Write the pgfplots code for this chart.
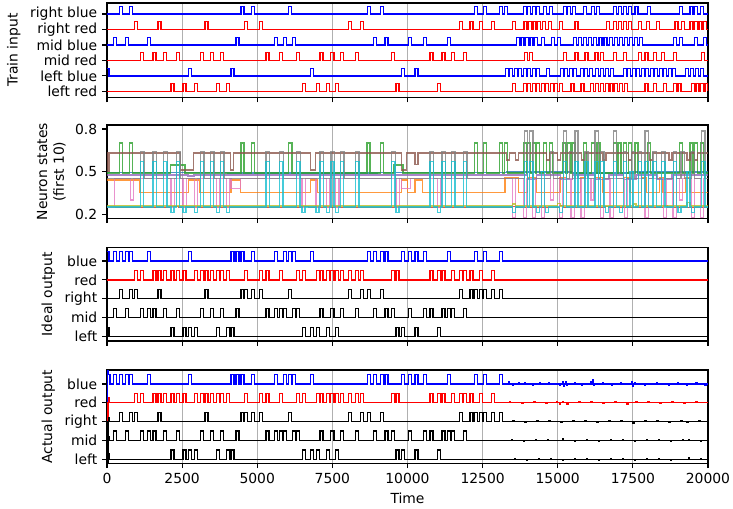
\documentclass[border=0pt]{standalone}
\usepackage{fontspec}
\setmainfont{DejaVu Sans}
\usepackage{pgfplots}
\pgfplotsset{compat=1.18}
\definecolor{tabC0}{HTML}{1F77B4}
\definecolor{tabC1}{HTML}{FF7F0E}
\definecolor{tabC2}{HTML}{2CA02C}
\definecolor{tabC3}{HTML}{D62728}
\definecolor{tabC4}{HTML}{9467BD}
\definecolor{tabC5}{HTML}{8C564B}
\definecolor{tabC6}{HTML}{E377C2}
\definecolor{tabC7}{HTML}{7F7F7F}
\definecolor{tabC8}{HTML}{BCBD22}
\definecolor{tabC9}{HTML}{17BECF}
\definecolor{gridgray}{HTML}{B0B0B0}
\pgfplotsset{
  panel/.style={
    width=432.72pt, scale only axis,
    xmin=0, xmax=20000,
    scaled x ticks=false, scaled y ticks=false,
    xtick={0,2500,5000,7500,10000,12500,15000,17500,20000},
    xticklabels={},
    xmajorgrids,
    major grid style={color=gridgray, line width=0.8pt},
    tick align=outside, tick pos=left,
    major tick length=3.5pt,
    tick style={black, line width=0.8pt},
    axis line style={line width=0.8pt},
    every axis plot/.append style={const plot, line width=0.9pt, mark=none},
    ylabel style={font=\normalsize},
    ticklabel style={font=\normalsize},
  },
  ns/.style={draw opacity=0.8, line width=1pt},
}
\begin{document}
\begin{tikzpicture}
\useasboundingbox (0,0) rectangle (527.76pt,-366.48pt);
% ---------------- Panel 1: Train input
\begin{axis}[panel, at={(77.04pt,-2.16pt)}, anchor=north west, height=68pt,
  ymin=-0.39, ymax=5.71,
  ytick={0,1,2,3,4,5},
  yticklabels={left red,left blue,mid red,mid blue,right red,right blue},
  ylabel={Train input}]
\addplot[blue] coordinates {(0,5) (422,5.5) (522,5) (755,5.5) (855,5) (4462,5.5) (4562,5) (4817,5.5) (4917,5) (6050,5.5) (6150,5) (8658,5.5) (8758,5) (9105,5.5) (9205,5) (12221,5.5) (12321,5) (12520,5.5) (12620,5) (13052,5.5) (13152,5) (13218,5.5) (13318,5) (13850,5.5) (13950,5) (14000,5.5) (14100,5) (14150,5.5) (14250,5) (14300,5.5) (14400,5) (14520,5.5) (14620,5) (14720,5.5) (14820,5) (15180,5.5) (15280,5) (15330,5.5) (15430,5) (15480,5.5) (15580,5) (15850,5.5) (15950,5) (16130,5.5) (16230,5) (16300,5.5) (16400,5) (16850,5.5) (16950,5) (17010,5.5) (17110,5) (17180,5.5) (17280,5) (17350,5.5) (17450,5) (17570,5.5) (17670,5) (17990,5.5) (18090,5) (19060,5.5) (19160,5) (19400,5.5) (19500,5) (19560,5.5) (19660,5) (19760,5.5) (19860,5) (20000,5)};
\addplot[red] coordinates {(0,4) (910,4.5) (1010,4) (1698,4.5) (1798,4) (3263,4.5) (3363,4) (4584,4.5) (4684,4) (5084,4.5) (5184,4) (8036,4.5) (8136,4) (8436,4.5) (8536,4) (11722,4.5) (11822,4) (12077,4.5) (12177,4) (12387,4.5) (12487,4) (12798,4.5) (12898,4) (13485,4.5) (13585,4) (13880,4.5) (13980,4) (14030,4.5) (14130,4) (14180,4.5) (14280,4) (14330,4.5) (14430,4) (14480,4.5) (14580,4) (14690,4.5) (14790,4) (15070,4.5) (15170,4) (15570,4.5) (15670,4) (16620,4.5) (16720,4) (16850,4.5) (16950,4) (17010,4.5) (17110,4) (17180,4.5) (17280,4) (17350,4.5) (17450,4) (17680,4.5) (17780,4) (17955,4.5) (18055,4) (18290,4.5) (18390,4) (18900,4.5) (19000,4) (19120,4.5) (19220,4) (19400,4.5) (19500,4) (19550,4.5) (19650,4) (19700,4.5) (19800,4) (19850,4.5) (19950,4) (20000,4)};
\addplot[blue] coordinates {(0,3) (222,3.5) (322,3) (611,3.5) (711,3) (1354,3.5) (1454,3) (4296,3.5) (4396,3) (5572,3.5) (5672,3) (5883,3.5) (5983,3) (6183,3.5) (6283,3) (8858,3.5) (8958,3) (9249,3.5) (9349,3) (10025,3.5) (10125,3) (10524,3.5) (10624,3) (11323,3.5) (11423,3) (13630,3.5) (13730,3) (13780,3.5) (13880,3) (13930,3.5) (14030,3) (14080,3.5) (14180,3) (14230,3.5) (14330,3) (14460,3.5) (14560,3) (14800,3.5) (14900,3) (14980,3.5) (15080,3) (15520,3.5) (15620,3) (15690,3.5) (15790,3) (15860,3.5) (15960,3) (16030,3.5) (16130,3) (16200,3.5) (16300,3) (16370,3.5) (16470,3) (16540,3.5) (16640,3) (16710,3.5) (16810,3) (16880,3.5) (16980,3) (17050,3.5) (17150,3) (17220,3.5) (17320,3) (17390,3.5) (17490,3) (17560,3.5) (17660,3) (17730,3.5) (17830,3) (18850,3.5) (18950,3) (19060,3.5) (19160,3) (19560,3.5) (19660,3) (19850,3.5) (19950,3) (20000,3)};
\addplot[red] coordinates {(0,2) (1110,2.5) (1210,2) (1532,2.5) (1632,2) (1887,2.5) (1987,2) (2309,2.5) (2409,2) (3108,2.5) (3208,2) (3441,2.5) (3541,2) (3774,2.5) (3874,2) (5295,2.5) (5395,2) (5750,2.5) (5850,2) (6310,2.5) (6410,2) (7090,2.5) (7190,2) (7450,2.5) (7550,2) (7770,2.5) (7870,2) (8270,2.5) (8370,2) (9471,2.5) (9571,2) (10746,2.5) (10846,2) (11150,2.5) (11250,2) (11467,2.5) (11567,2) (11855,2.5) (11955,2) (13885,2.5) (13985,2) (14062,2.5) (14162,2) (15182,2.5) (15282,2) (15570,2.5) (15670,2) (15903,2.5) (16003,2) (16236,2.5) (16336,2) (16430,2.5) (16530,2) (16846,2.5) (16946,2) (17178,2.5) (17278,2) (17678,2.5) (17778,2) (17900,2.5) (18000,2) (18176,2.5) (18276,2) (18454,2.5) (18554,2) (18850,2.5) (18950,2) (19784,2.5) (19884,2) (20000,2)};
\addplot[blue] coordinates {(0,1.5) (70,1) (2720,1.5) (2820,1) (4129,1.5) (4229,1) (6771,1.5) (6871,1) (9803,1.5) (9903,1) (10247,1.5) (10347,1) (13250,1.5) (13350,1) (13400,1.5) (13500,1) (13550,1.5) (13650,1) (13700,1.5) (13800,1) (13850,1.5) (13950,1) (14000,1.5) (14100,1) (14150,1.5) (14250,1) (14300,1.5) (14400,1) (14630,1.5) (14730,1) (15080,1.5) (15180,1) (15230,1.5) (15330,1) (15380,1.5) (15480,1) (15530,1.5) (15630,1) (15750,1.5) (15850,1) (15900,1.5) (16000,1) (16050,1.5) (16150,1) (16250,1.5) (16350,1) (16420,1.5) (16520,1) (16590,1.5) (16690,1) (16760,1.5) (16860,1) (17180,1.5) (17280,1) (17330,1.5) (17430,1) (17480,1.5) (17580,1) (17630,1.5) (17730,1) (17780,1.5) (17880,1) (17930,1.5) (18030,1) (18080,1.5) (18180,1) (18230,1.5) (18330,1) (18380,1.5) (18480,1) (18530,1.5) (18630,1) (18680,1.5) (18780,1) (18830,1.5) (18930,1) (19250,1.5) (19350,1) (19420,1.5) (19520,1) (19590,1.5) (19690,1) (19760,1.5) (19860,1) (20000,1)};
\addplot[red] coordinates {(0,0) (2131,0.5) (2231,0) (2531,0.5) (2631,0) (2908,0.5) (3008,0) (3641,0.5) (3741,0) (3974,0.5) (4074,0) (6494,0.5) (6594,0) (6960,0.5) (7060,0) (7310,0.5) (7410,0) (7604,0.5) (7704,0) (9615,0.5) (9715,0) (11000,0.5) (11100,0) (13485,0.5) (13585,0) (13850,0.5) (13950,0) (14000,0.5) (14100,0) (14150,0.5) (14250,0) (14300,0.5) (14400,0) (14450,0.5) (14550,0) (14600,0.5) (14700,0) (14750,0.5) (14850,0) (14900,0.5) (15000,0) (15050,0.5) (15150,0) (15440,0.5) (15540,0) (15770,0.5) (15870,0) (16100,0.5) (16200,0) (16260,0.5) (16360,0) (16420,0.5) (16520,0) (16580,0.5) (16680,0) (16740,0.5) (16840,0) (16900,0.5) (17000,0) (17060,0.5) (17160,0) (17220,0.5) (17320,0) (17900,0.5) (18000,0) (18180,0.5) (18280,0) (18510,0.5) (18610,0) (18840,0.5) (18940,0) (19000,0.5) (19100,0) (19450,0.5) (19550,0) (19600,0.5) (19700,0) (19750,0.5) (19850,0) (19900,0.5) (20000,0)};
\end{axis}
% ---------------- Panel 2: Neuron states
\begin{axis}[panel, at={(77.04pt,-90pt)}, anchor=north west, height=67.2pt,
  ymin=0.17, ymax=0.828,
  ytick={0.2,0.5,0.8}, yticklabels={0.2,0.5,0.8},
  ylabel={Neuron states\\(first 10)}, ylabel style={align=center}]
\addplot[tabC0, ns] coordinates {(0,0.493) (4000,0.49) (9000,0.493) (13300,0.497) (15500,0.49) (17500,0.497) (20000,0.497)};
\addplot[tabC1, ns] coordinates {(0,0.44) (1100,0.35) (2720,0.44) (3100,0.35) (4129,0.44) (4450,0.35) (6771,0.44) (7000,0.35) (9803,0.44) (10000,0.35) (10247,0.44) (10500,0.35) (13250,0.46) (13700,0.35) (14000,0.46) (14300,0.35) (15080,0.46) (15300,0.35) (15750,0.46) (15900,0.35) (16250,0.46) (16500,0.35) (17180,0.46) (17400,0.35) (17780,0.46) (17950,0.35) (18380,0.46) (18500,0.35) (19250,0.46) (19400,0.35) (20000,0.35)};
\addplot[tabC2, ns] coordinates {(0,0.49) (422,0.70) (522,0.49) (755,0.70) (855,0.49) (2110,0.545) (2600,0.49) (4462,0.70) (4562,0.49) (4817,0.70) (4917,0.49) (6050,0.70) (6150,0.49) (8658,0.70) (8758,0.49) (9105,0.70) (9205,0.49) (9550,0.545) (9850,0.49) (12221,0.70) (12321,0.49) (12520,0.70) (12620,0.49) (13052,0.70) (13152,0.49) (13218,0.70) (13318,0.49) (13850,0.70) (13950,0.49) (14000,0.70) (14100,0.49) (14150,0.70) (14250,0.49) (14300,0.70) (14400,0.49) (14520,0.70) (14620,0.49) (14720,0.70) (14820,0.49) (15180,0.70) (15280,0.49) (15330,0.70) (15430,0.49) (15480,0.70) (15580,0.49) (15850,0.70) (15950,0.49) (16130,0.70) (16230,0.49) (16300,0.70) (16400,0.49) (16850,0.70) (16950,0.49) (17010,0.70) (17110,0.49) (17180,0.70) (17280,0.49) (17350,0.70) (17450,0.49) (17570,0.70) (17670,0.49) (17990,0.70) (18090,0.49) (19060,0.70) (19160,0.49) (19400,0.70) (19500,0.49) (19560,0.70) (19660,0.49) (19760,0.70) (19860,0.49) (20000,0.49)};
\addplot[tabC3, ns] coordinates {(0,0.245) (2131,0.255) (2400,0.245) (6494,0.255) (6700,0.245) (13485,0.255) (13600,0.245) (15050,0.26) (15200,0.245) (16580,0.255) (16700,0.245) (18510,0.26) (18650,0.245) (20000,0.245)};
\addplot[tabC4, ns] coordinates {(0,0.476) (2700,0.468) (2900,0.476) (13300,0.476) (14000,0.445) (14300,0.476) (15100,0.445) (15500,0.476) (16250,0.445) (16700,0.476) (17180,0.445) (17600,0.476) (18300,0.445) (18800,0.476) (20000,0.476)};
\addplot[tabC5, ns] coordinates {(0,0.63) (30,0.5) (90,0.63) (2440,0.51) (2886,0.63) (4107,0.51) (4218,0.63) (6771,0.51) (6937,0.63) (9803,0.51) (9970,0.63) (10247,0.55) (10350,0.63) (13300,0.58) (13400,0.63) (13600,0.58) (13700,0.63) (14630,0.58) (14730,0.63) (15000,0.58) (15100,0.63) (15800,0.58) (15900,0.63) (16500,0.58) (16600,0.63) (17350,0.58) (17450,0.63) (18050,0.58) (18150,0.63) (18700,0.58) (18800,0.63) (19300,0.58) (19400,0.63) (19550,0.58) (19650,0.63) (20000,0.63)};
\addplot[tabC6, ns] coordinates {(0,0.25) (250,0.45) (780,0.30) (880,0.45) (2131,0.25) (2241,0.45) (2531,0.25) (2641,0.45) (2908,0.25) (3018,0.45) (3641,0.25) (3751,0.45) (3974,0.25) (4084,0.45) (4129,0.38) (4450,0.45) (6494,0.25) (6604,0.45) (6960,0.25) (7070,0.45) (7310,0.25) (7420,0.45) (7604,0.25) (7714,0.45) (9615,0.25) (9725,0.45) (9803,0.38) (10100,0.45) (11000,0.25) (11110,0.45) (13485,0.175) (13595,0.45) (13850,0.175) (13960,0.45) (14150,0.175) (14260,0.45) (14450,0.175) (14560,0.45) (14750,0.30) (14850,0.45) (15050,0.175) (15160,0.45) (15440,0.175) (15550,0.45) (15770,0.175) (15880,0.45) (16100,0.30) (16200,0.45) (16420,0.175) (16530,0.45) (16740,0.175) (16850,0.45) (17220,0.175) (17330,0.45) (17900,0.175) (18010,0.45) (18510,0.175) (18620,0.45) (18840,0.175) (18950,0.45) (19050,0.30) (19150,0.45) (19450,0.175) (19560,0.45) (19750,0.175) (19860,0.45) (20000,0.45)};
\addplot[tabC7, ns] coordinates {(0,0.45) (1110,0.64) (1230,0.45) (1532,0.64) (1652,0.45) (1887,0.64) (2007,0.45) (2309,0.64) (2429,0.45) (3108,0.64) (3228,0.45) (3441,0.64) (3561,0.45) (3774,0.64) (3894,0.45) (5295,0.64) (5415,0.45) (5750,0.64) (5870,0.45) (6310,0.64) (6430,0.45) (7090,0.64) (7210,0.45) (7450,0.64) (7570,0.45) (7770,0.64) (7890,0.45) (8270,0.64) (8390,0.45) (9471,0.64) (9591,0.45) (10746,0.64) (10866,0.45) (11150,0.64) (11270,0.45) (11467,0.64) (11587,0.45) (11855,0.64) (11975,0.45) (13885,0.785) (13995,0.45) (14062,0.785) (14172,0.45) (14750,0.64) (14860,0.45) (15182,0.785) (15292,0.45) (15400,0.64) (15500,0.45) (15570,0.785) (15680,0.45) (15903,0.64) (16013,0.45) (16236,0.785) (16346,0.45) (16430,0.64) (16540,0.45) (16846,0.785) (16956,0.45) (17178,0.64) (17288,0.45) (17450,0.64) (17560,0.45) (17678,0.64) (17788,0.45) (17900,0.785) (18010,0.45) (18176,0.64) (18286,0.45) (18454,0.64) (18564,0.45) (18850,0.64) (18960,0.45) (19100,0.64) (19210,0.45) (19450,0.64) (19560,0.45) (19784,0.785) (19894,0.45) (20000,0.45)};
\addplot[tabC8, ns] coordinates {(0,0.258) (13500,0.27) (13600,0.258) (15000,0.275) (15100,0.258) (17500,0.27) (17600,0.258) (19300,0.28) (19400,0.258) (20000,0.258)};
\addplot[tabC9, ns] coordinates {(0,0.25) (1110,0.57) (1220,0.25) (1532,0.57) (1642,0.25) (1887,0.57) (1997,0.25) (2131,0.21) (2231,0.25) (2309,0.57) (2419,0.25) (2531,0.21) (2631,0.25) (2908,0.21) (3008,0.25) (3108,0.57) (3218,0.25) (3441,0.57) (3551,0.25) (3641,0.21) (3741,0.25) (3774,0.57) (3884,0.25) (3974,0.21) (4074,0.25) (5295,0.57) (5405,0.25) (5750,0.57) (5860,0.25) (6310,0.57) (6420,0.25) (6494,0.21) (6594,0.25) (6960,0.21) (7060,0.25) (7090,0.57) (7200,0.25) (7310,0.21) (7410,0.25) (7450,0.57) (7560,0.25) (7604,0.21) (7704,0.25) (7770,0.57) (7880,0.25) (8270,0.57) (8380,0.25) (9471,0.57) (9581,0.25) (9615,0.21) (9715,0.25) (10746,0.57) (10856,0.25) (11000,0.21) (11100,0.25) (11150,0.57) (11260,0.25) (11467,0.57) (11577,0.25) (11855,0.57) (11965,0.25) (13485,0.21) (13585,0.25) (13885,0.57) (13995,0.25) (14062,0.57) (14172,0.25) (14300,0.21) (14400,0.25) (14450,0.50) (14550,0.25) (14600,0.21) (14700,0.25) (15050,0.21) (15150,0.25) (15182,0.57) (15292,0.25) (15570,0.57) (15680,0.25) (15903,0.57) (16013,0.25) (16236,0.57) (16346,0.25) (16430,0.57) (16540,0.25) (16580,0.21) (16680,0.25) (16846,0.57) (16956,0.25) (17060,0.21) (17160,0.25) (17178,0.57) (17288,0.25) (17400,0.50) (17500,0.25) (17678,0.57) (17788,0.25) (17900,0.57) (18010,0.25) (18176,0.57) (18286,0.25) (18454,0.57) (18564,0.25) (18850,0.57) (18960,0.25) (19000,0.21) (19100,0.25) (19300,0.50) (19400,0.25) (19450,0.21) (19550,0.25) (19784,0.57) (19894,0.25) (20000,0.25)};
\end{axis}
% ---------------- Panel 3: Ideal output
\begin{axis}[panel, at={(77.04pt,-178.34pt)}, anchor=north west, height=67.2pt,
  ymin=-0.23, ymax=4.70,
  ytick={0,1,2,3,4}, yticklabels={left,mid,right,red,blue},
  ylabel={Ideal output}]
\addplot[blue] coordinates {(0,4.5) (70,4) (222,4.5) (322,4) (422,4.5) (522,4) (611,4.5) (711,4) (755,4.5) (855,4) (1354,4.5) (1454,4) (2720,4.5) (2820,4) (4129,4.5) (4229,4) (4296,4.5) (4396,4) (4462,4.5) (4562,4) (4817,4.5) (4917,4) (5572,4.5) (5672,4) (5883,4.5) (5983,4) (6050,4.5) (6150,4) (6183,4.5) (6283,4) (6771,4.5) (6871,4) (8658,4.5) (8758,4) (8858,4.5) (8958,4) (9105,4.5) (9205,4) (9249,4.5) (9349,4) (9803,4.5) (9903,4) (10025,4.5) (10125,4) (10247,4.5) (10347,4) (10524,4.5) (10624,4) (11323,4.5) (11423,4) (12221,4.5) (12321,4) (12520,4.5) (12620,4) (13052,4.5) (13152,4) (20000,4)};
\addplot[red] coordinates {(0,3) (910,3.5) (1010,3) (1110,3.5) (1210,3) (1532,3.5) (1632,3) (1698,3.5) (1798,3) (1887,3.5) (1987,3) (2131,3.5) (2231,3) (2309,3.5) (2409,3) (2531,3.5) (2631,3) (2908,3.5) (3008,3) (3108,3.5) (3208,3) (3263,3.5) (3363,3) (3441,3.5) (3541,3) (3641,3.5) (3741,3) (3774,3.5) (3874,3) (3974,3.5) (4074,3) (4584,3.5) (4684,3) (5084,3.5) (5184,3) (5295,3.5) (5395,3) (5750,3.5) (5850,3) (6310,3.5) (6410,3) (6494,3.5) (6594,3) (6960,3.5) (7060,3) (7090,3.5) (7190,3) (7310,3.5) (7410,3) (7450,3.5) (7550,3) (7604,3.5) (7704,3) (7770,3.5) (7870,3) (8036,3.5) (8136,3) (8270,3.5) (8370,3) (8436,3.5) (8536,3) (9471,3.5) (9571,3) (9615,3.5) (9715,3) (10746,3.5) (10846,3) (11000,3.5) (11100,3) (11150,3.5) (11250,3) (11467,3.5) (11567,3) (11722,3.5) (11822,3) (11855,3.5) (11955,3) (12077,3.5) (12177,3) (12387,3.5) (12487,3) (12798,3.5) (12898,3) (20000,3)};
\addplot[black] coordinates {(0,2) (422,2.5) (522,2) (755,2.5) (855,2) (910,2.5) (1010,2) (1698,2.5) (1798,2) (3263,2.5) (3363,2) (4462,2.5) (4562,2) (4584,2.5) (4684,2) (4817,2.5) (4917,2) (5084,2.5) (5184,2) (6050,2.5) (6150,2) (8036,2.5) (8136,2) (8436,2.5) (8536,2) (8658,2.5) (8758,2) (9105,2.5) (9205,2) (11722,2.5) (11822,2) (12077,2.5) (12177,2) (12221,2.5) (12321,2) (12387,2.5) (12487,2) (12520,2.5) (12620,2) (12798,2.5) (12898,2) (13052,2.5) (13152,2) (20000,2)};
\addplot[black] coordinates {(0,1) (222,1.5) (322,1) (611,1.5) (711,1) (1110,1.5) (1210,1) (1354,1.5) (1454,1) (1532,1.5) (1632,1) (1887,1.5) (1987,1) (2309,1.5) (2409,1) (3108,1.5) (3208,1) (3441,1.5) (3541,1) (3774,1.5) (3874,1) (4296,1.5) (4396,1) (5295,1.5) (5395,1) (5572,1.5) (5672,1) (5750,1.5) (5850,1) (5883,1.5) (5983,1) (6183,1.5) (6283,1) (6310,1.5) (6410,1) (7090,1.5) (7190,1) (7450,1.5) (7550,1) (7770,1.5) (7870,1) (8270,1.5) (8370,1) (8858,1.5) (8958,1) (9249,1.5) (9349,1) (9471,1.5) (9571,1) (10025,1.5) (10125,1) (10524,1.5) (10624,1) (10746,1.5) (10846,1) (11150,1.5) (11250,1) (11323,1.5) (11423,1) (11467,1.5) (11567,1) (11855,1.5) (11955,1) (20000,1)};
\addplot[black] coordinates {(0,0.5) (70,0) (2131,0.5) (2231,0) (2531,0.5) (2631,0) (2720,0.5) (2820,0) (2908,0.5) (3008,0) (3641,0.5) (3741,0) (3974,0.5) (4074,0) (4129,0.5) (4229,0) (6494,0.5) (6594,0) (6771,0.5) (6871,0) (6960,0.5) (7060,0) (7310,0.5) (7410,0) (7604,0.5) (7704,0) (9615,0.5) (9715,0) (9803,0.5) (9903,0) (10247,0.5) (10347,0) (11000,0.5) (11100,0) (20000,0)};
\end{axis}
% ---------------- Panel 4: Actual output
\begin{axis}[panel, at={(77.04pt,-266.4pt)}, anchor=north west, height=67.2pt,
  ymin=-0.21, ymax=4.74,
  ytick={0,1,2,3,4}, yticklabels={left,mid,right,red,blue},
  xticklabels={0,2500,5000,7500,10000,12500,15000,17500,20000},
  ylabel={Actual output}, xlabel={Time}]
\addplot[blue] coordinates {(0,-0.21) (25,4.74) (50,4.5) (100,4) (222,4.5) (322,4) (422,4.5) (522,4) (611,4.5) (711,4) (755,4.5) (855,4) (1354,4.5) (1454,4) (2720,4.5) (2820,4) (4129,4.5) (4229,4) (4296,4.5) (4396,4) (4462,4.5) (4562,4) (4817,4.5) (4917,4) (5572,4.5) (5672,4) (5883,4.5) (5983,4) (6050,4.5) (6150,4) (6183,4.5) (6283,4) (6771,4.5) (6871,4) (8658,4.5) (8758,4) (8858,4.5) (8958,4) (9105,4.5) (9205,4) (9249,4.5) (9349,4) (9803,4.5) (9903,4) (10025,4.5) (10125,4) (10247,4.5) (10347,4) (10524,4.5) (10624,4) (11323,4.5) (11423,4) (12221,4.5) (12321,4) (12520,4.5) (12620,4) (13052,4.5) (13152,4) (13350,4.12) (13380,4) (13500,3.92) (13530,4) (13700,4.06) (13730,4) (13900,4.05) (13930,4) (14150,3.94) (14180,4) (14400,4.07) (14430,4) (14700,4.05) (14730,4) (15050,3.93) (15080,4) (15150,4.15) (15180,4) (15200,3.88) (15230,4) (15250,4.12) (15280,4) (15300,3.92) (15330,4) (15550,4.06) (15580,4) (15800,3.94) (15830,4) (16100,4.12) (16130,4) (16150,4.22) (16180,4) (16200,3.92) (16230,4) (16500,4.05) (16530,4) (16800,3.95) (16830,4) (17100,4.06) (17130,4) (17450,4.1) (17480,4) (17500,3.85) (17530,4) (17550,4.08) (17580,4) (17900,3.95) (17930,4) (18300,4.06) (18330,4) (18700,3.94) (18730,4) (19000,4.08) (19030,4) (19300,3.95) (19330,4) (19600,4.06) (19630,4) (19900,3.95) (19930,4) (20000,4)};
\addplot[red] coordinates {(0,3) (20,0.3) (45,3.3) (70,3) (910,3.5) (1010,3) (1110,3.5) (1210,3) (1532,3.5) (1632,3) (1698,3.5) (1798,3) (1887,3.5) (1987,3) (2131,3.5) (2231,3) (2309,3.5) (2409,3) (2531,3.5) (2631,3) (2908,3.5) (3008,3) (3108,3.5) (3208,3) (3263,3.5) (3363,3) (3441,3.5) (3541,3) (3641,3.5) (3741,3) (3774,3.5) (3874,3) (3974,3.5) (4074,3) (4584,3.5) (4684,3) (5084,3.5) (5184,3) (5295,3.5) (5395,3) (5750,3.5) (5850,3) (6310,3.5) (6410,3) (6494,3.5) (6594,3) (6960,3.5) (7060,3) (7090,3.5) (7190,3) (7310,3.5) (7410,3) (7450,3.5) (7550,3) (7604,3.5) (7704,3) (7770,3.5) (7870,3) (8036,3.5) (8136,3) (8270,3.5) (8370,3) (8436,3.5) (8536,3) (9471,3.5) (9571,3) (9615,3.5) (9715,3) (10746,3.5) (10846,3) (11000,3.5) (11100,3) (11150,3.5) (11250,3) (11467,3.5) (11567,3) (11722,3.5) (11822,3) (11855,3.5) (11955,3) (12077,3.5) (12177,3) (12387,3.5) (12487,3) (12798,3.5) (12898,3) (13400,3.05) (13440,3) (13800,2.95) (13840,3) (14200,3.06) (14240,3) (14600,2.95) (14640,3) (14950,3.06) (14990,3) (15050,2.92) (15090,3) (15150,3.08) (15190,3) (15300,2.94) (15340,3) (15700,3.05) (15740,3) (16100,3.06) (16140,3) (16500,2.95) (16540,3) (16900,3.07) (16940,3) (17300,2.94) (17340,3) (17600,3.05) (17640,3) (18000,3.06) (18040,3) (18400,2.95) (18440,3) (18800,3.06) (18840,3) (19200,2.95) (19240,3) (19600,3.05) (19640,3) (20000,3)};
\addplot[black] coordinates {(0,2) (20,-0.1) (45,2.2) (70,2) (422,2.5) (522,2) (755,2.5) (855,2) (910,2.5) (1010,2) (1698,2.5) (1798,2) (3263,2.5) (3363,2) (4462,2.5) (4562,2) (4584,2.5) (4684,2) (4817,2.5) (4917,2) (5084,2.5) (5184,2) (6050,2.5) (6150,2) (8036,2.5) (8136,2) (8436,2.5) (8536,2) (8658,2.5) (8758,2) (9105,2.5) (9205,2) (11722,2.5) (11822,2) (12077,2.5) (12177,2) (12221,2.5) (12321,2) (12387,2.5) (12487,2) (12520,2.5) (12620,2) (12798,2.5) (12898,2) (13052,2.5) (13152,2) (13500,2.05) (13540,2) (13900,1.96) (13940,2) (14300,2.05) (14340,2) (14700,2.05) (14740,2) (15100,1.94) (15140,2) (15500,2.05) (15540,2) (15900,2.04) (15940,2) (16300,1.95) (16340,2) (16700,2.05) (16740,2) (17100,2.05) (17140,2) (17500,1.93) (17540,2) (17900,2.05) (17940,2) (18300,2.05) (18340,2) (18700,1.95) (18740,2) (19100,2.06) (19140,2) (19300,1.94) (19340,2) (19700,2.05) (19740,2) (20000,2)};
\addplot[black] coordinates {(0,1) (20,-0.15) (45,1.2) (70,1) (222,1.5) (322,1) (611,1.5) (711,1) (1110,1.5) (1210,1) (1354,1.5) (1454,1) (1532,1.5) (1632,1) (1887,1.5) (1987,1) (2309,1.5) (2409,1) (3108,1.5) (3208,1) (3441,1.5) (3541,1) (3774,1.5) (3874,1) (4296,1.5) (4396,1) (5295,1.5) (5395,1) (5572,1.5) (5672,1) (5750,1.5) (5850,1) (5883,1.5) (5983,1) (6183,1.5) (6283,1) (6310,1.5) (6410,1) (7090,1.5) (7190,1) (7450,1.5) (7550,1) (7770,1.5) (7870,1) (8270,1.5) (8370,1) (8858,1.5) (8958,1) (9249,1.5) (9349,1) (9471,1.5) (9571,1) (10025,1.5) (10125,1) (10524,1.5) (10624,1) (10746,1.5) (10846,1) (11150,1.5) (11250,1) (11323,1.5) (11423,1) (11467,1.5) (11567,1) (11855,1.5) (11955,1) (13450,1.05) (13490,1) (13850,0.95) (13890,1) (14250,1.05) (14290,1) (14650,1.04) (14690,1) (15150,1.08) (15190,1) (15550,0.95) (15590,1) (15950,1.05) (15990,1) (16350,0.95) (16390,1) (16750,1.05) (16790,1) (17150,1.04) (17190,1) (17550,0.95) (17590,1) (17950,1.05) (17990,1) (18350,1.04) (18390,1) (18750,0.95) (18790,1) (19150,1.05) (19190,1) (19350,1.07) (19390,1) (19750,0.95) (19790,1) (20000,1)};
\addplot[black] coordinates {(0,0.5) (20,-0.2) (45,0.3) (70,0) (2131,0.5) (2231,0) (2531,0.5) (2631,0) (2720,0.5) (2820,0) (2908,0.5) (3008,0) (3641,0.5) (3741,0) (3974,0.5) (4074,0) (4129,0.5) (4229,0) (6494,0.5) (6594,0) (6771,0.5) (6871,0) (6960,0.5) (7060,0) (7310,0.5) (7410,0) (7604,0.5) (7704,0) (9615,0.5) (9715,0) (9803,0.5) (9903,0) (10247,0.5) (10347,0) (11000,0.5) (11100,0) (13550,0.05) (13590,0) (13950,-0.04) (13990,0) (14350,0.05) (14390,0) (14750,0.04) (14790,0) (15150,-0.05) (15190,0) (15550,0.05) (15590,0) (15950,0.04) (15990,0) (16350,-0.04) (16390,0) (16750,0.05) (16790,0) (17150,0.04) (17190,0) (17550,-0.05) (17590,0) (17950,0.05) (17990,0) (18350,0.04) (18390,0) (18750,-0.04) (18790,0) (19350,0.07) (19390,0) (19750,0.04) (19790,0) (20000,0)};
\end{axis}
\end{tikzpicture}
\end{document}
